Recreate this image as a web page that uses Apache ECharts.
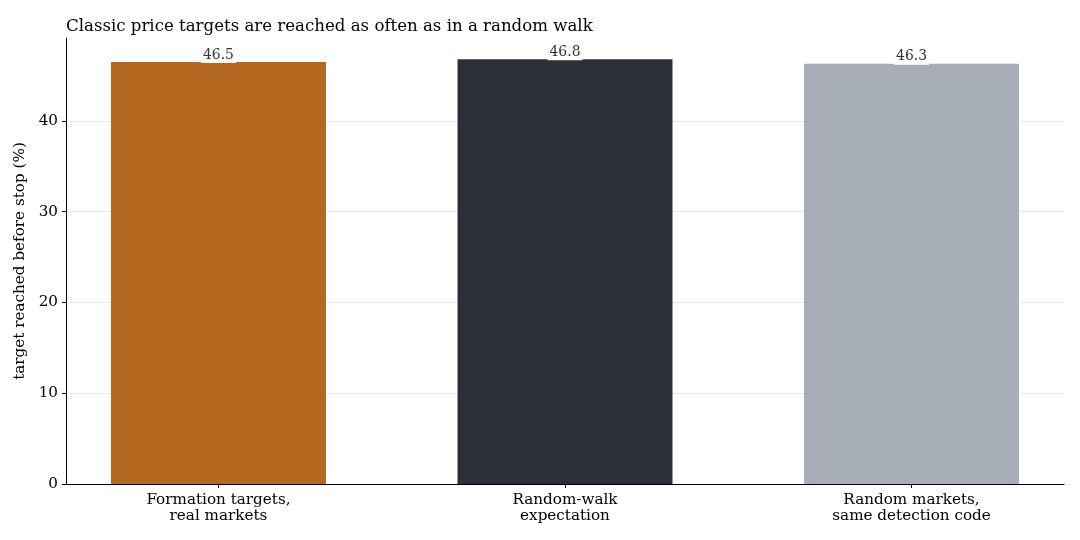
<!DOCTYPE html>
<html>
<head>
<meta charset="utf-8">
<script src="https://cdn.jsdelivr.net/npm/echarts@6/dist/echarts.min.js"></script>
<style>html,body{margin:0;padding:0;background:#fff}#c{width:1080px;height:540px}</style>
</head>
<body>
<div id="c"></div>
<script>
const titleText = 'Classic price targets are reached as often as in a random walk';
const categories = ['Formation targets,\nreal markets', 'Random-walk\nexpectation', 'Random markets,\nsame detection code'];
const values = [46.5, 46.8, 46.3];
const colors = ['#b5681f', '#2b3038', '#a8aeb7'];
const yTicks = [0, 10, 20, 30, 40];
const yLabel = 'target reached before stop (%)';

const font = 'DejaVu Serif';
const chart = echarts.init(document.getElementById('c'), null, {renderer: 'canvas'});
const positions = categories.map((c, i) => i);
chart.setOption({
  animation: false,
  backgroundColor: '#fff',
  title: {
    text: titleText, left: 61, top: 13,
    textStyle: {fontFamily: font, fontSize: 16.6, fontWeight: 'normal', color: '#000'}
  },
  grid: {left: 66, right: 16, top: 38, bottom: 56},
  xAxis: {
    type: 'value', min: -0.44, max: 2.44,
    axisLine: {onZero: false, lineStyle: {color: '#000', width: 1}},
    axisTick: {show: true, length: 4, lineStyle: {color: '#000'}, customValues: positions},
    axisLabel: {
      customValues: positions,
      formatter: v => categories[Math.round(v)] || '',
      fontFamily: font, fontSize: 15.2, color: '#000', lineHeight: 16, margin: 8
    },
    splitLine: {show: false}
  },
  yAxis: {
    type: 'value', min: 0, max: 49.14,
    name: yLabel, nameLocation: 'middle', nameGap: 31, nameRotate: 90,
    nameTextStyle: {fontFamily: font, fontSize: 15.2, color: '#000'},
    axisLine: {show: true, onZero: false, lineStyle: {color: '#000', width: 1}},
    axisTick: {show: true, length: 4, lineStyle: {color: '#000'}, customValues: yTicks},
    axisLabel: {customValues: yTicks, fontFamily: font, fontSize: 15.2, color: '#000', margin: 8},
    splitLine: {show: true, lineStyle: {color: '#e8e8e8', width: 1}}
  },
  series: [{
    type: 'bar',
    barWidth: 215,
    data: values.map((v, i) => ({value: [positions[i], v], itemStyle: {color: colors[i]}})),
    label: {
      show: true, position: 'top', distance: -1,
      formatter: p => p.value[1].toFixed(1),
      fontFamily: font, fontSize: 13.9, color: '#333',
      backgroundColor: '#fff', padding: [0, 2, 1, 2]
    }
  }]
});
</script>
</body>
</html>
